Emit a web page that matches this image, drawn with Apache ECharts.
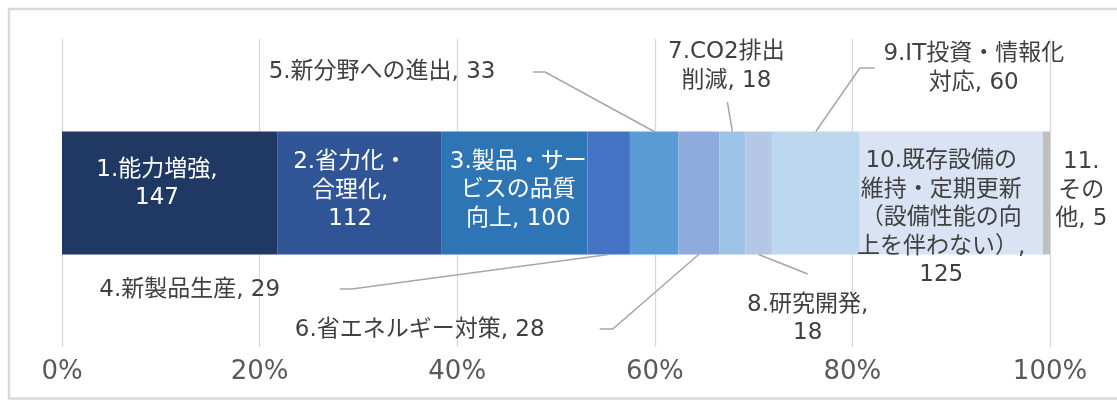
<!DOCTYPE html>
<html>
<head>
<meta charset="utf-8">
<script src="https://cdn.jsdelivr.net/npm/echarts@6/dist/echarts.min.js"></script>
<style>
  html, body { margin: 0; padding: 0; background: #ffffff; }
  #chart { width: 1117px; height: 401px; }
</style>
</head>
<body>
<div id="chart"></div>
<script>
// Investment purposes (names carry their own line breaks) and counts
const categories = [
  '1.能力増強',
  '2.省力化・\n合理化',
  '3.製品・サー\nビスの品質\n向上',
  '4.新製品生産',
  '5.新分野への進出',
  '6.省エネルギー対策',
  '7.CO2排出\n削減',
  '8.研究開発',
  '9.IT投資・情報化\n対応',
  '10.既存設備の\n維持・定期更新\n（設備性能の向\n上を伴わない）',
  '11.\nその\n他'
];
const values = [147, 112, 100, 29, 33, 28, 18, 18, 60, 125, 5];
// whether the count goes on its own line after the name
const valueOnOwnLine = [true, true, false, false, false, false, false, true, false, true, false];
const tickValues = [0, 20, 40, 60, 80, 100];

const colors = [
  '#203864', '#2F5597', '#2E75B6', '#4472C4', '#5B9BD5', '#8FAADC',
  '#9DC3E6', '#B4C7E7', '#BDD7EE', '#DAE3F3', '#BFBFBF'
];

// Label placement relative to the segment: anchor edge, offset of the text centre,
// and leader-line bend points relative to the text centre.
const placement = [
  { edge: 'mid',    dx: -12.6, dy: -9,   light: true },
  { edge: 'mid',    dx: -9,    dy: -2,   light: true },
  { edge: 'mid',    dx: 4,     dy: -2.5, light: true },
  { edge: 'bottom', dx: -419,  dy: 35.5, lead: [[150, -1], [162, -1]] },
  { edge: 'top',    dx: -272,  dy: -59.5, lead: [[151, 0], [163, 0]] },
  { edge: 'bottom', dx: -279,  dy: 75.5, lead: [[180, -1], [193, -1]] },
  { edge: 'top',    dx: -6,    dy: -65,  lead: [[1, 35.5]] },
  { edge: 'bottom', dx: 49,    dy: 64.5, lead: [[0, -45]] },
  { edge: 'top',    dx: 158,   dy: -63,  lead: [[-99, -0.5], [-114, -0.5]] },
  { edge: 'mid',    dx: -10,   dy: 25.5 },
  { edge: 'mid',    dx: 35,    dy: -2 }
];

const BAR_WIDTH = 123;
const total = values.reduce((a, b) => a + b, 0);
const shares = values.map(v => v / total * 100);
const labelFont = "'DejaVu Sans', 'Noto Sans CJK JP', sans-serif";

function anchorOf(p, x0, x1, yTop, yBottom) {
  const ax = (x0 + x1) / 2;
  const ay = p.edge === 'top' ? yTop : (p.edge === 'bottom' ? yBottom : (yTop + yBottom) / 2);
  return [ax, ay];
}

const series = categories.map((name, i) => {
  const p = placement[i];
  return {
    name: name,
    type: 'bar',
    stack: 'share',
    barWidth: BAR_WIDTH,
    data: [shares[i]],
    itemStyle: { color: colors[i] },
    label: {
      show: true,
      position: 'inside',
      fontSize: 23,
      lineHeight: 28.5,
      fontFamily: labelFont,
      color: p.light ? '#ffffff' : '#404040',
      formatter: () => name + (valueOnOwnLine[i] ? ',\n' : ', ') + values[i]
    },
    labelLayout: function (params) {
      const r = params.rect;
      const [ax, ay] = anchorOf(p, r.x, r.x + r.width, r.y, r.y + r.height);
      return { x: ax + p.dx, y: ay + p.dy, align: 'center', verticalAlign: 'middle' };
    }
  };
});

const border = {
  id: 'frame',
  type: 'polyline',
  silent: true,
  shape: { points: [[1117, 9], [9, 9], [9, 398.5], [1117, 398.5]] },
  style: { stroke: '#d9d9d9', lineWidth: 2.5, fill: null }
};

const chart = echarts.init(document.getElementById('chart'), null, { renderer: 'canvas' });
chart.setOption({
  backgroundColor: '#ffffff',
  animation: false,
  grid: { left: 62, right: 67, top: 39, bottom: 54, containLabel: false },
  xAxis: {
    type: 'value',
    min: tickValues[0],
    max: tickValues[tickValues.length - 1],
    interval: tickValues[1] - tickValues[0],
    axisLine: { show: false },
    axisTick: { show: false },
    splitLine: { show: true, lineStyle: { color: '#d9d9d9', width: 1.3 } },
    axisLabel: {
      formatter: '{value}%',
      fontSize: 26,
      fontFamily: "'DejaVu Sans', sans-serif",
      color: '#595959',
      margin: 12
    }
  },
  yAxis: {
    type: 'category',
    data: [''],
    axisLine: { show: false },
    axisTick: { show: false },
    axisLabel: { show: false },
    splitLine: { show: false }
  },
  graphic: [border],
  series: series
});

// Leader lines from each outside label to the middle of its segment's edge,
// positioned through the axes' own scales.
const yCenter = chart.convertToPixel({ yAxisIndex: 0 }, 0);
const yTop = yCenter - BAR_WIDTH / 2;
const yBottom = yCenter + BAR_WIDTH / 2;
const leaders = [];
let cum = 0;
shares.forEach((s, i) => {
  const p = placement[i];
  const x0 = chart.convertToPixel({ xAxisIndex: 0 }, cum);
  const x1 = chart.convertToPixel({ xAxisIndex: 0 }, cum + s);
  cum += s;
  if (!p.lead) return;
  const [ax, ay] = anchorOf(p, x0, x1, yTop, yBottom);
  const cx = ax + p.dx;
  const cy = ay + p.dy;
  const pts = p.lead.map(([u, v]) => [cx + u, cy + v]);
  pts.push([ax, ay]);
  leaders.push({
    id: 'leader' + i,
    type: 'polyline',
    silent: true,
    z: 5,
    shape: { points: pts },
    style: { stroke: '#a6a6a6', lineWidth: 1.5, fill: null }
  });
});
chart.setOption({ graphic: [border].concat(leaders) });
</script>
</body>
</html>
